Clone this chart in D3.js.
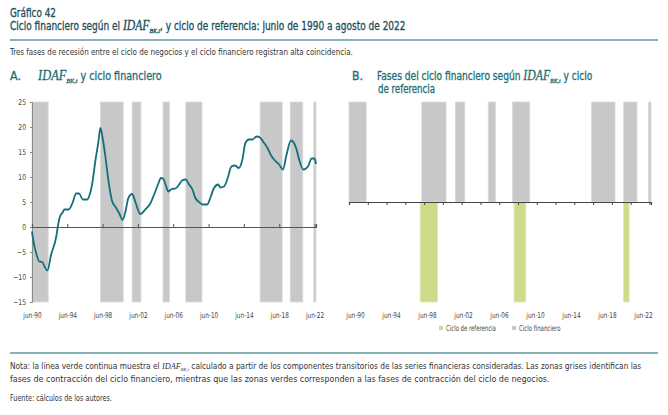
<!DOCTYPE html>
<html>
<head>
<meta charset="utf-8">
<script src="https://cdn.jsdelivr.net/npm/d3@7"></script>
<style>
  body { margin: 0; background: #fff; }
  svg text { font-family: "DejaVu Sans Condensed", "Liberation Sans", sans-serif; }
  .idaf { font-family: "Liberation Serif", "DejaVu Serif", serif; font-style: italic; }
  .heavy { stroke: currentColor; stroke-width: 0.3; }
</style>
</head>
<body>
<div id="chart"></div>
<script>
// IDAF_BK,t monthly readings (approx. from the picture)
const lineDates = ["1990-06","1990-08","1990-11","1991-04","1991-08","1991-11","1992-03","1992-08","1993-03","1993-05",
  "1993-08","1993-12","1994-02","1994-08","1995-01","1995-06","1995-10","1996-03","1996-09","1996-12",
  "1997-04","1997-08","1997-12","1998-03","1998-06","1998-10","1999-02","1999-07","1999-12","2000-05",
  "2000-09","2001-01","2001-05","2001-10","2002-03","2002-09","2003-04","2003-10","2004-04","2004-10",
  "2005-01","2005-04","2005-08","2005-11","2006-04","2006-09","2007-02","2007-06","2007-11","2008-03",
  "2008-08","2008-12","2009-05","2009-10","2010-04","2010-09","2011-01","2011-07","2011-10","2012-03",
  "2012-08","2013-01","2013-06","2013-11","2014-04","2014-08","2015-01","2015-06","2015-11","2016-04",
  "2016-08","2017-02","2017-07","2017-12","2018-06","2018-11","2019-04","2019-10","2020-05","2020-09",
  "2021-03","2021-09","2022-02","2022-06","2022-08"];
const lineValues = [-0.9,-2.9,-4.9,-6.9,-7.0,-7.9,-8.7,-5.5,-1.9,0.0,
  2.1,3.0,3.5,3.5,4.8,6.7,6.7,5.5,5.5,6.3,
  8.8,13.1,16.8,19.8,17.8,13.8,9.1,5.1,3.9,2.6,
  1.4,3.1,5.8,6.6,4.8,2.6,3.5,4.5,6.5,8.8,
  9.8,9.7,8.3,7.1,7.6,7.7,8.5,9.3,9.5,8.6,
  7.5,5.8,5.0,4.5,4.5,6.1,7.7,8.5,7.9,8.1,
  9.8,12.1,12.3,11.8,13.5,16.8,17.5,17.5,18.1,17.9,
  17.1,15.8,14.3,13.3,12.5,11.5,14.5,17.3,15.8,13.5,
  11.5,12.1,13.7,13.7,12.6];

// contraction phases (start, end)
const finPhases = [["1990-06","1992-04"],["1998-03","2000-10"],["2001-10","2002-10"],["2005-04","2006-01"],
  ["2007-11","2009-09"],["2016-04","2018-10"],["2019-09","2021-02"],["2022-05","2022-08"]];
const refPhases = [["1998-01","1999-11"],["2008-01","2009-04"],["2019-09","2020-04"]];

const xTickLabels = ["jun-90","jun-94","jun-98","jun-02","jun-06","jun-10","jun-14","jun-18","jun-22"];
const yTicksA = [-15,-10,-5,0,5,10,15,20,25];

const parse = d3.timeParse("%Y-%m");
const startDate = parse("1990-06"), endDate = parse("2022-08");

const teal = "#1e6e73", lineCol = "#13707a", grayBand = "#c8c8c8", greenBand = "#cddc8b";

const svg = d3.select("#chart").append("svg")
  .attr("width", 668).attr("height", 415);

// condensed look: squeeze a text horizontally to the width it has in the original
function fitText(x, y, width, build) {
  const g = svg.append("g").attr("transform", `translate(${x},${y})`);
  const t = g.append("text");
  build(t);
  const w = t.node().getBBox().width;
  g.attr("transform", `translate(${x},${y}) scale(${width / w},1)`);
  return t;
}
function idaf(t, big, small, shift) {
  t.append("tspan").attr("class", "idaf").attr("font-size", big).text("IDAF");
  t.append("tspan").attr("class", "idaf").attr("font-size", small).attr("dy", shift).text("BK,t");
}

// ---------- header ----------
fitText(10, 17, 46, t => t.attr("font-size", 12).attr("class", "heavy")
  .style("color", "#1b4e5c").attr("fill", "#1b4e5c").text("Gráfico 42"));

fitText(10, 30, 396, t => {
  t.attr("font-size", 12).attr("class", "heavy").style("color", "#1b4e5c").attr("fill", "#1b4e5c");
  t.append("tspan").text("Ciclo financiero según el ");
  idaf(t, 14, 7, 3);
  t.append("tspan").attr("dy", -3).text(", y ciclo de referencia: junio de 1990 a agosto de 2022");
});

svg.append("line").attr("x1", 10).attr("x2", 658).attr("y1", 40).attr("y2", 40)
  .attr("stroke", "#5e9a9f").attr("stroke-width", 1.6);

fitText(10, 55, 344, t => t.attr("font-size", 9).attr("fill", "#333")
  .text("Tres fases de recesión entre el ciclo de negocios y el ciclo financiero registran alta coincidencia."));

// ---------- panel titles ----------
const tealTitle = t => t.attr("font-size", 12).attr("class", "heavy").style("color", teal).attr("fill", teal);
fitText(10, 80, 11, t => tealTitle(t).text("A."));
fitText(38, 80, 125, t => {
  tealTitle(t);
  idaf(t, 14, 7, 3);
  t.append("tspan").attr("dy", -3).text(" y ciclo financiero");
});

fitText(352, 80, 11, t => tealTitle(t).text("B."));
fitText(377, 80, 216, t => {
  tealTitle(t);
  t.append("tspan").text("Fases del ciclo financiero según ");
  idaf(t, 14, 7, 3);
  t.append("tspan").attr("dy", -3).text(" y ciclo");
});
fitText(378, 93, 57, t => tealTitle(t).attr("font-size", 11.5).text("de referencia"));

const axisFont = sel => sel.attr("font-size", 8).attr("fill", "#444")
  .style("font-family", '"DejaVu Sans Condensed", sans-serif');

// ---------- panel A ----------
const xA = d3.scaleTime().domain([startDate, endDate]).range([32, 316]);
const yA = d3.scaleLinear().domain([-15, 25]).range([302, 102]);

const gA = svg.append("g");
gA.selectAll("rect.band").data(finPhases).enter().append("rect")
  .attr("x", d => xA(parse(d[0])))
  .attr("width", d => xA(parse(d[1])) - xA(parse(d[0])))
  .attr("y", yA(25)).attr("height", yA(-15) - yA(25))
  .attr("fill", grayBand).attr("stroke", "#dadada").attr("stroke-width", 0.8);

// y axis
const yAxisA = gA.append("g").attr("transform", "translate(32,0)")
  .call(d3.axisLeft(yA).tickValues(yTicksA).tickSize(2).tickPadding(5));
yAxisA.select(".domain").attr("stroke", "#888");
yAxisA.selectAll(".tick line").attr("stroke", "#888");
axisFont(yAxisA.selectAll("text")).attr("transform", "scale(0.85,1)");

// zero line with ticks
const tickDates = xTickLabels.map(s => d3.timeParse("%b-%y")(s.replace("jun", "Jun")));
const zeroAxis = gA.append("g").attr("transform", `translate(0,${yA(0)})`)
  .call(d3.axisTop(xA).tickValues(tickDates).tickSize(3).tickFormat(""));
zeroAxis.select(".domain").attr("stroke", "#555").attr("stroke-width", 1.2);
zeroAxis.selectAll(".tick line").attr("stroke", "#555");

// x labels
const labA = gA.append("g").attr("transform", `translate(0,${yA(-15)})`)
  .call(d3.axisBottom(xA).tickValues(tickDates).tickSize(0).tickPadding(10)
    .tickFormat((d, i) => xTickLabels[i]));
labA.select(".domain").remove();
axisFont(labA.selectAll("text")).attr("transform", "scale(0.8,1)");

const lineData = lineDates.map((d, i) => ({ date: parse(d), value: lineValues[i] }));
gA.append("path").datum(lineData)
  .attr("fill", "none").attr("stroke", lineCol).attr("stroke-width", 1.8)
  .attr("d", d3.line().x(d => xA(d.date)).y(d => yA(d.value)).curve(d3.curveMonotoneX));

// ---------- panel B ----------
const xB = d3.scaleTime().domain([startDate, endDate]).range([349, 651]);
const yB = d3.scaleLinear().domain([-1, 1]).range([302, 102]);
const gB = svg.append("g");

gB.selectAll("rect.fin").data(finPhases).enter().append("rect")
  .attr("x", d => xB(parse(d[0])))
  .attr("width", d => xB(parse(d[1])) - xB(parse(d[0])))
  .attr("y", yB(1)).attr("height", yB(0) - yB(1))
  .attr("fill", grayBand).attr("stroke", "#dadada").attr("stroke-width", 0.8);

gB.selectAll("rect.ref").data(refPhases).enter().append("rect")
  .attr("x", d => xB(parse(d[0])))
  .attr("width", d => xB(parse(d[1])) - xB(parse(d[0])))
  .attr("y", yB(0)).attr("height", yB(-1) - yB(0))
  .attr("fill", greenBand).attr("stroke", "#dde8b0").attr("stroke-width", 0.8);

const bTicks = d3.range(0, 17).map(i => d3.timeYear.offset(startDate, 2 * i));
const axB = gB.append("g").attr("transform", `translate(0,${yB(0)})`)
  .call(d3.axisBottom(xB).tickValues(bTicks).tickSize(3).tickFormat(""));
axB.select(".domain").attr("stroke", "#444").attr("stroke-width", 1.2);
axB.selectAll(".tick line").attr("stroke", "#444");

const xLabB = d3.scalePoint().domain(xTickLabels).range([355, 643]);
const labB = gB.append("g").attr("transform", `translate(0,${yB(-1)})`)
  .call(d3.axisBottom(xLabB).tickSize(0).tickPadding(10));
labB.select(".domain").remove();
axisFont(labB.selectAll("text")).attr("transform", "scale(0.8,1)");

// legend
const legendItems = [["Ciclo de referencia", greenBand, 439, 50], ["Ciclo financiero", grayBand, 512, 42]];
legendItems.forEach(d => {
  svg.append("rect").attr("x", d[2]).attr("y", 326).attr("width", 4).attr("height", 4).attr("fill", d[1]);
  fitText(d[2] + 7, 331, d[3], t => t.attr("font-size", 8).attr("fill", "#444").text(d[0]));
});

// ---------- notes ----------
svg.append("line").attr("x1", 10).attr("x2", 658).attr("y1", 353).attr("y2", 353)
  .attr("stroke", "#5e9a9f").attr("stroke-width", 1.6);

fitText(10, 369, 632, t => {
  t.attr("font-size", 9).attr("fill", "#333");
  t.append("tspan").text("Nota: la línea verde continua muestra el ");
  idaf(t, 9, 5, 2);
  t.append("tspan").attr("dy", -2).text(" calculado a partir de los componentes transitorios de las series financieras consideradas. Las zonas grises identifican las");
});
fitText(10, 382, 540, t => t.attr("font-size", 9).attr("fill", "#333")
  .text("fases de contracción del ciclo financiero, mientras que las zonas verdes corresponden a las fases de contracción del ciclo de negocios."));
fitText(10, 401, 102, t => t.attr("font-size", 9).attr("fill", "#333")
  .text("Fuente: cálculos de los autores."));
</script>
</body>
</html>
